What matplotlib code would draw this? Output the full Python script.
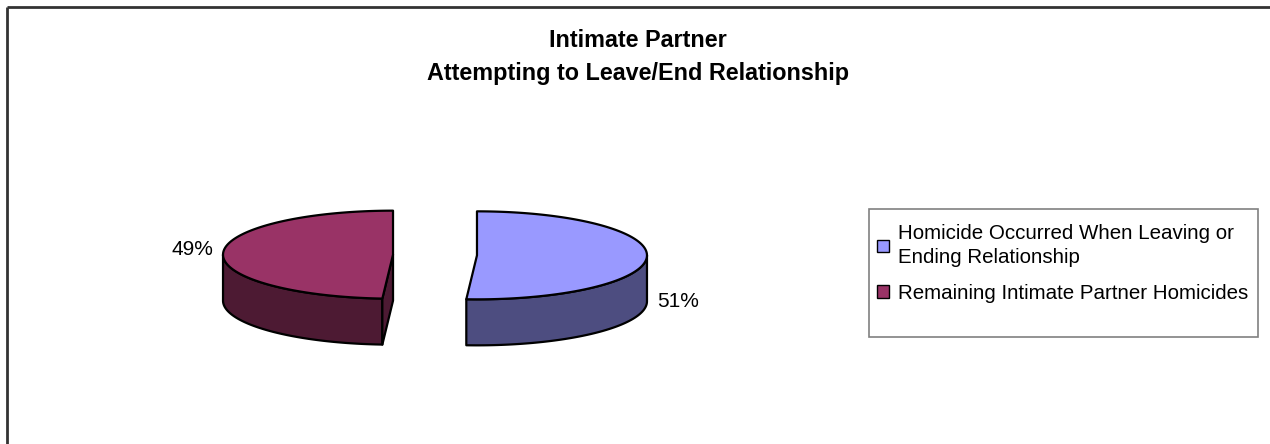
"""
Intimate partner homicide: exploded 3-D style pie drawn with polygons.
"""

import numpy as np
import matplotlib.pyplot as plt
from matplotlib.patches import Polygon, Rectangle, Patch

# data
labels = ['Homicide Occurred When Leaving or\nEnding Relationship',
          'Remaining Intimate Partner Homicides']
values = [51, 49]
top_colors = ['#9999FF', '#993366']
side_colors = ['#4D4D80', '#4D1A33']

title = 'Intimate Partner\nAttempting to Leave/End Relationship'

W, H = 1270, 444
fig = plt.figure(figsize=(W / 100, H / 100), dpi=100)
ax = fig.add_axes([0, 0, 1, 1])
ax.set_xlim(0, W)
ax.set_ylim(H, 0)
ax.axis('off')

plt.rcParams['font.family'] = ['Liberation Sans', 'DejaVu Sans']

# outer chart frame (runs off the right and bottom edges)
ax.plot([7, W + 5], [7, 7], color='#333333', lw=2, solid_capstyle='butt')
ax.plot([7, 7], [7, H + 5], color='#333333', lw=2, solid_capstyle='butt')

ax.text(638, 57, title, ha='center', va='center', fontsize=16.8,
        fontweight='bold', linespacing=1.55)

# pie geometry (pixels)
cx, cy = 435, 255
rx, ry = 170, 44
depth = 46
explode = 42


def pt(x0, y0, theta, dz=0):
    t = np.radians(theta)
    return x0 + rx * np.sin(t), y0 - ry * np.cos(t) + dz


total = sum(values)
start = 0.0
label_off = [(10, 45), (-10, -4)]
for i, v in enumerate(values):
    a0 = start
    a1 = start + 360.0 * v / total
    mid = (a0 + a1) / 2
    m = np.radians(mid)
    x0 = cx + explode * np.sin(m)
    y0 = cy - explode * np.cos(m) * ry / rx
    ec = dict(edgecolor='black', linewidth=1.6, joinstyle='round')

    # outer wall, front half only
    lo, hi = max(a0, 90), min(a1, 270)
    if hi > lo:
        th = np.linspace(lo, hi, 80)
        topx, topy = pt(x0, y0, th)
        botx, boty = pt(x0, y0, th[::-1], depth)
        poly = np.column_stack([np.r_[topx, botx], np.r_[topy, boty]])
        ax.add_patch(Polygon(poly, closed=True, facecolor=side_colors[i], **ec))

    # radial walls facing the viewer
    for ang, n in ((a0, a0 - 90), (a1, a1 + 90)):
        if np.cos(np.radians(n)) < -1e-6:
            rxp, ryp = pt(x0, y0, ang)
            poly = [(x0, y0), (rxp, ryp), (rxp, ryp + depth), (x0, y0 + depth)]
            ax.add_patch(Polygon(poly, closed=True, facecolor=side_colors[i], **ec))

    # top face
    th = np.linspace(a0, a1, 160)
    tx, ty = pt(x0, y0, th)
    poly = np.column_stack([np.r_[x0, tx], np.r_[y0, ty]])
    ax.add_patch(Polygon(poly, closed=True, facecolor=top_colors[i], **ec))

    # percentage label
    lx, ly = pt(x0, y0, mid)
    dx, dy = label_off[i]
    ax.text(lx + dx, ly + dy, f'{v}%', fontsize=15,
            ha='left' if dx > 0 else 'right', va='center')
    start = a1

# legend: box drawn separately because Excel leaves empty room below entries
ax.add_patch(Rectangle((869, 209), 389, 128, facecolor='white',
                       edgecolor='#808080', linewidth=1.2))
handles = [Patch(facecolor=top_colors[i], edgecolor='black', linewidth=1.0)
           for i in range(len(values))]
leg = ax.legend(handles, labels, loc='upper left',
                bbox_to_anchor=(877 / W, 1 - 224 / H),
                bbox_transform=fig.transFigure, frameon=False,
                fontsize=14.8, handlelength=0.58, handleheight=0.58,
                handletextpad=0.45, labelspacing=0.8, borderpad=0.0,
                borderaxespad=0.0)
for t in leg.get_texts():
    t.set_linespacing(1.36)

fig.savefig('out.png', dpi=100, facecolor='white')
